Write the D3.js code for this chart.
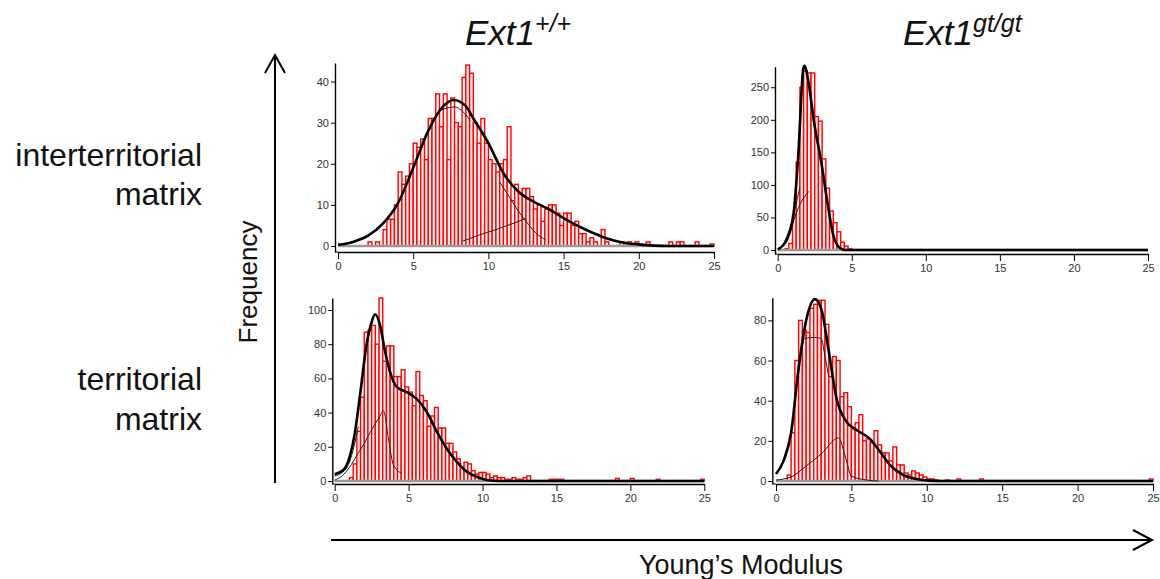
<!DOCTYPE html>
<html>
<head>
<meta charset="utf-8">
<script src="https://cdn.jsdelivr.net/npm/d3@7"></script>
<style>
  body { margin: 0; background: #fff; }
  text { font-family: "Liberation Sans", Arial, sans-serif; }
</style>
</head>
<body>
<div id="chart"></div>
<script>
// histogram bins are 0.25 wide, from 0 to 25 (100 bins)
const binWidth = 0.25;
const xTicks = [0, 5, 10, 15, 20, 25];

const columnTitles = [["Ext1", "+/+"], ["Ext1", "gt/gt"]];
const rowLabels = [["interterritorial", "matrix"], ["territorial", "matrix"]];

// counts, one array per panel
const wtInter = [
  0,0,0,0,0,0,0,0, 1,0,1,0, 4,6.5,6.5,10, 18,15,17,20, 25,24,26,21,
  31,31,37,29, 37,21,36,30, 29,41,44,42, 30,25,31,25, 21,20,18,20,
  21,29,11,15, 13,14,14,12, 9,10,6,9, 10,10,8,5, 8,8,5,6, 3,3,1,2,
  1,0,4,1, 0,0,0,1, 0,1,0,1, 0,0,1,0, 0,0,0,0, 1,0,1,1, 0,0,0,1, 0,0,0,0.5
];
const gtInter = [
  0,0,2,10, 55,135,250,275, 272,272,205,198, 140,95,60,42, 28,12,6,2,
  0,0,0,0,0,0,0,0,0,0, 0,0,0,0,0,0,0,0,0,0, 0,0,0,0,0,0,0,0,0,0,
  0,0,0,0,0,0,0,0,0,0, 0,0,0,0,0,0,0,0,0,0, 0,0,0,0,0,0,0,0,0,0,
  0,0,0,0,0,0,0,0,0,0, 0,0,0,0,0,0,0,0,0,0, 0,0,0,0,0,0,0,0,0,3
];
const wtTerr = [
  0,0,0,0, 2,10,29,49, 87,88,91,80, 107,70,79,79, 61,61,65,55,
  52,44,64,50, 47,32,38,43, 31,31,22,22, 17,13,8,11, 10,6,4,5,
  5,4,2,3, 2,2,1,1, 2,1,1,2, 3,0,0,0, 0,0,1,1, 1,1,0,0,
  0,0,0,0, 0,0,0,0, 0,0,0,0, 1.5,0,0,0, 1.5,0,0,0, 0,0,0,1,
  0,0,0,0, 0,0,0,0, 0,0,0,1
];
const gtTerr = [
  0,0,0,3, 24,60,80,75, 74,86,88,90, 90,78,52,62, 60,42,44,37,
  26,29,33,20, 21,19,25,18, 14,14,10,17, 8,8,4,3, 5,4,3,2,
  1,1,0.5,0, 0,0.5,0,0, 1,0,0,0, 0,0,1,0, 0,0,0,0, 0,0,0,0,
  0,0,0,0, 0,0,0,0, 0,0,0,0, 0,0,0,0, 0,0,0,0, 0,0,0,0,
  0,0,0,0, 0,0,0,0, 0,0,0,1
];

// fitted curves, [modulus, frequency] points
const wtInterFit = [[0,0.3],[1,1],[2,2.5],[3,5.5],[4,10.5],[5,19],[6,28],[7,34],[7.7,35.5],[8.5,34],
  [9,31],[10,25],[11,17.7],[12,13.2],[13,10.8],[14,9],[15,6.8],[16,4.8],[17,3.1],[18,1.7],
  [19,0.8],[20,0.4],[21,0.1],[22,0],[25,0]];
const wtInterParts = [
  [[6.8,33],[7.3,33.6],[7.8,33.8],[8.2,33],[8.8,30.5]],
  [[10.75,15.5],[11.3,12.5],[11.9,9],[12.5,6],[13.2,3],[13.8,1.5]],
  [[8.3,1.2],[9.5,2.8],[10.5,4],[11.5,5.3],[12.5,6.7]]
];
const gtInterFit = [[0,1],[0.6,15],[1.06,54],[1.39,146],[1.73,279],[1.8,283],[2.07,259],[2.45,197],
  [2.97,131],[3.35,74],[3.75,23],[4.16,4],[4.6,0],[25,0]];
const gtInterParts = [
  [[0.3,5],[0.9,40],[1.5,97]],
  [[0.8,25],[1.4,65],[2.1,90]]
];
const wtTerrFit = [[0,4],[0.59,6.4],[1.04,15],[1.38,29],[1.71,50],[2.16,80],[2.5,93],[2.73,97.5],
  [3.07,91],[3.4,76],[3.74,64],[4.19,55],[4.87,52],[5.55,48],[6.22,40.5],[6.9,29],[7.57,19],
  [8.25,11.3],[8.93,5.5],[9.6,2.5],[10.3,0.6],[11.2,0],[25,0]];
const wtTerrParts = [
  [[0,0.5],[0.5,3],[1,8],[1.5,15],[2,22],[2.5,30],[3,37],[3.3,41],[3.63,25],[3.97,9.4],[4.53,4.5]],
  [[0,3],[0.5,5],[1,11],[1.3,20],[1.6,32]]
];
const gtTerrFit = [[0,3.5],[0.5,10],[1,24],[1.48,55],[2.03,81],[2.58,90.6],[3.03,85],[3.47,66],
  [4.02,41],[4.68,29.5],[5.34,25.4],[6.23,21],[6.9,14.6],[7.55,8],[8.44,3],[9.32,1],[10.2,0.2],
  [11,0],[25,0]];
const gtTerrParts = [
  [[1.6,60],[1.9,71],[2.5,71.5],[3,71],[3.25,62],[3.5,52]],
  [[0,0.5],[1,2],[2,7.5],[3,13.5],[4.15,21.5],[4.6,12],[5,2.5],[6,0.5],[6.8,0]]
];

const yTicksList = [[0,10,20,30,40], [0,50,100,150,200,250], [0,20,40,60,80,100], [0,20,40,60,80]];

// panel placement on the page
const panels = [
  {bins: wtInter, fit: wtInterFit, parts: wtInterParts, ticks: yTicksList[0],
   x0: 338, x25: 714, axisX: 335, zeroY: 246, axisY: 252, topY: 63, yMax: 44.5},
  {bins: gtInter, fit: gtInterFit, parts: gtInterParts, ticks: yTicksList[1],
   x0: 777.7, x25: 1148, axisX: 775, zeroY: 250, axisY: 254, topY: 66.7, yMax: 281.6},
  {bins: wtTerr, fit: wtTerrFit, parts: wtTerrParts, ticks: yTicksList[2],
   x0: 334.7, x25: 704.3, axisX: 332.3, zeroY: 481, axisY: 484, topY: 298, yMax: 107},
  {bins: gtTerr, fit: gtTerrFit, parts: gtTerrParts, ticks: yTicksList[3],
   x0: 776, x25: 1153, axisX: 772.3, zeroY: 481, axisY: 484, topY: 297.7, yMax: 91.3}
];

const svg = d3.select("#chart").append("svg")
    .attr("width", 1160)
    .attr("height", 579);

panels.forEach(p => {
    const x = d3.scaleLinear().domain([0, 25]).range([p.x0, p.x25]);
    const y = d3.scaleLinear().domain([0, p.yMax]).range([p.zeroY, p.topY]);
    // stretch the scale so the axis line reaches down to the x axis
    y.domain([y.invert(p.axisY), p.yMax]).range([p.axisY, p.topY]);

    const g = svg.append("g");

    // bars
    g.selectAll("rect")
      .data(p.bins.map((v, i) => ({u: i * binWidth, v: v})).filter(d => d.v > 0))
      .enter()
      .append("rect")
        .attr("x", d => x(d.u))
        .attr("width", d => x(d.u + binWidth) - x(d.u))
        .attr("y", d => y(d.v))
        .attr("height", d => y(0) - y(d.v))
        .attr("fill", "#fff0f0")
        .attr("stroke", "#ff0000")
        .attr("stroke-width", 1.4);

    // grey zero line under the fits
    g.append("line")
        .attr("x1", x(0)).attr("x2", x(25))
        .attr("y1", y(0)).attr("y2", y(0))
        .attr("stroke", "#9a9a9a")
        .attr("stroke-width", 2.5);

    const line = d3.line()
        .x(d => x(d[0]))
        .y(d => y(d[1]))
        .curve(d3.curveMonotoneX);

    g.selectAll(".part")
      .data(p.parts)
      .enter()
      .append("path")
        .attr("class", "part")
        .attr("d", line)
        .attr("fill", "none")
        .attr("stroke", "#222")
        .attr("stroke-width", 1);

    g.append("path")
        .attr("d", line(p.fit))
        .attr("fill", "none")
        .attr("stroke", "#000")
        .attr("stroke-width", 2.6);

    // axes
    const xa = g.append("g")
        .attr("transform", "translate(0," + p.axisY + ")")
        .call(d3.axisBottom(x).tickValues(xTicks).tickSize(7).tickSizeOuter(0).tickPadding(3));
    xa.append("line")
        .attr("x1", p.axisX).attr("x2", p.x0)
        .attr("stroke", "#000");

    const ya = g.append("g")
        .attr("transform", "translate(" + p.axisX + ",0)")
        .call(d3.axisLeft(y).tickValues(p.ticks).tickSize(4).tickSizeOuter(0).tickPadding(2));

    [xa, ya].forEach(a => {
        a.select(".domain").attr("stroke", "#000").attr("stroke-width", 1.4);
        a.selectAll(".tick line").attr("stroke", "#000");
        a.selectAll("text")
            .attr("fill", "#333")
            .style("font-size", "11px")
            .style("font-family", "'Liberation Sans', Arial, sans-serif");
    });
});

// column titles
const titleX = [465, 903];
columnTitles.forEach((t, i) => {
    const txt = svg.append("text")
        .attr("x", titleX[i])
        .attr("y", 45)
        .style("font-style", "italic")
        .style("font-size", "35px")
        .attr("fill", "#111");
    txt.append("tspan").text(t[0]);
    txt.append("tspan")
        .attr("dy", -13)
        .style("font-size", "25px")
        .text(t[1]);
});

// row labels
const rowBase = [[166, 205], [390, 430]];
rowLabels.forEach((lines, i) => {
    lines.forEach((s, j) => {
        svg.append("text")
            .attr("x", 202)
            .attr("y", rowBase[i][j])
            .attr("text-anchor", "end")
            .style("font-size", "32px")
            .attr("fill", "#111")
            .text(s);
    });
});

// Frequency arrow
svg.append("path")
    .attr("d", "M275,483V56M265,73L275,55L285,73")
    .attr("fill", "none")
    .attr("stroke", "#000")
    .attr("stroke-width", 2);
svg.append("text")
    .attr("transform", "translate(257,282) rotate(-90)")
    .attr("text-anchor", "middle")
    .style("font-size", "26px")
    .attr("fill", "#111")
    .text("Frequency");

// Young's modulus arrow
svg.append("path")
    .attr("d", "M331,540H1151M1133,530L1152,540L1133,550")
    .attr("fill", "none")
    .attr("stroke", "#000")
    .attr("stroke-width", 2);
svg.append("text")
    .attr("x", 741)
    .attr("y", 574)
    .attr("text-anchor", "middle")
    .style("font-size", "27px")
    .attr("fill", "#111")
    .text("Young’s Modulus");
</script>
</body>
</html>
